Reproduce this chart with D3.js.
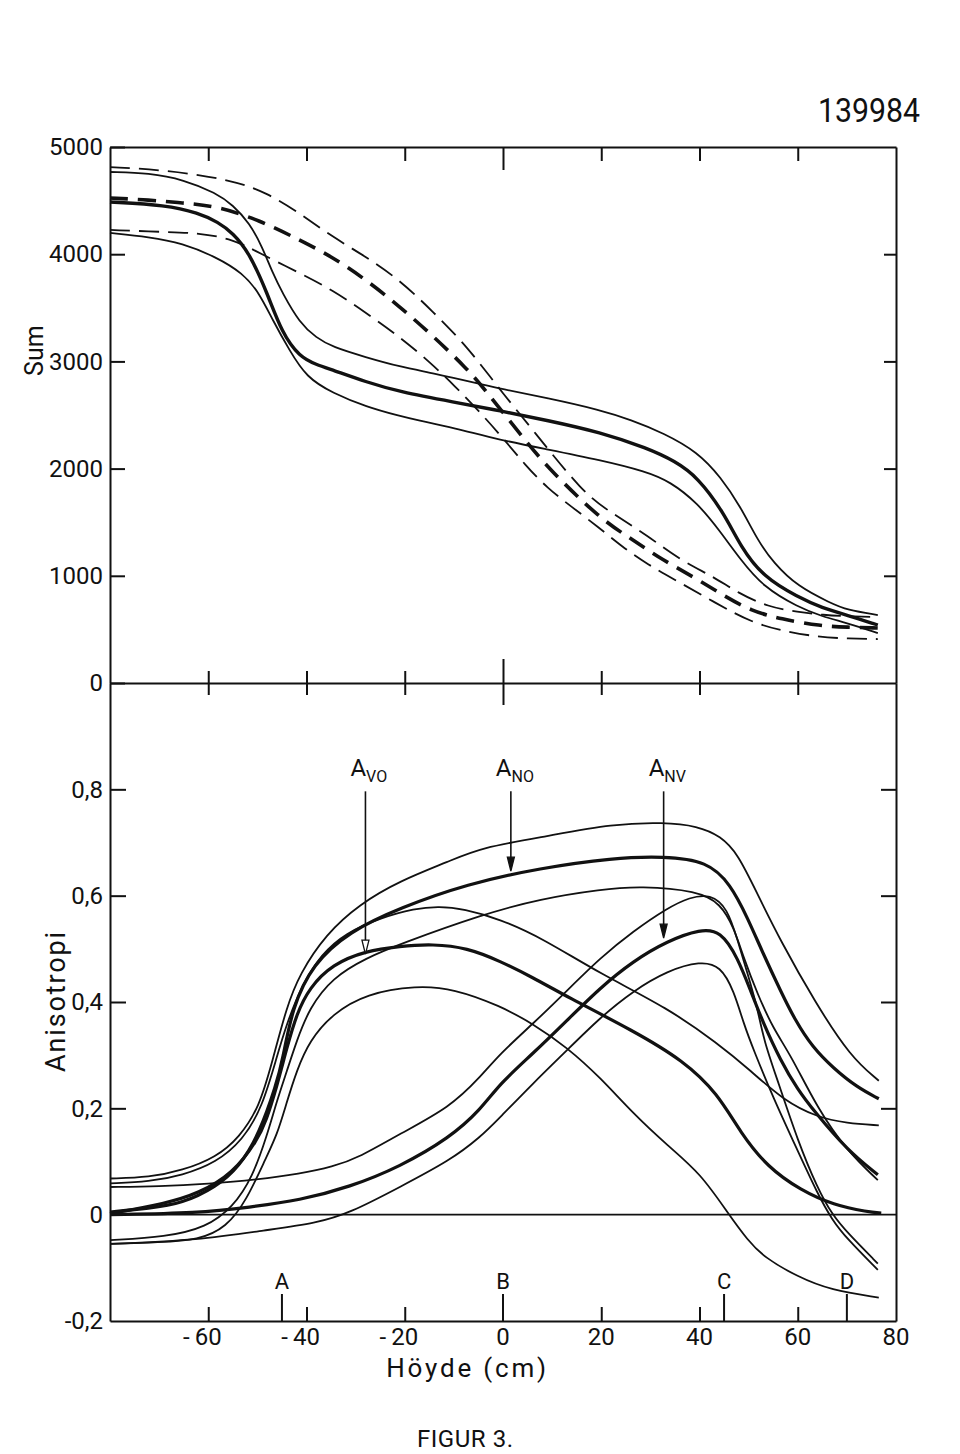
<!DOCTYPE html>
<html><head><meta charset="utf-8">
<script src="https://cdn.jsdelivr.net/npm/d3@7"></script>
<style>
html,body{margin:0;padding:0;background:#fff;}
svg{display:block;}
text{font-family:Roboto,"DejaVu Sans",sans-serif;fill:#111;}
</style></head><body>
<svg id="chart" width="960" height="1454"></svg>
<script>
// ---------- DATA ----------
// Top panel: Sum vs Höyde (cm)
const sumSolidUpper = [[-80,4767],[-72,4757],[-65,4695],[-58.4,4571],[-55,4459],[-51.6,4291],[-49,4067],[-46.9,3825],[-44.9,3638],[-41.4,3358],[-38,3220],[-34.7,3134],[-28,3040],[-21,2950],[-14.3,2890],[-4.7,2790],[-0.6,2745],[9,2659],[19.8,2547],[26,2455],[32.7,2332],[39.6,2155],[44.3,1922],[48.4,1642],[51.8,1334],[55.1,1119],[60,900],[66.7,746],[70,681],[76.3,634]];
const sumSolidMid = [[-80,4487],[-68.6,4459],[-62,4384],[-58,4300],[-55,4198],[-51.6,4011],[-48,3638],[-45,3265],[-41.4,3041],[-38,2970],[-34.7,2920],[-28,2810],[-21,2715],[-10,2620],[-0.6,2540],[9,2450],[19.8,2340],[29.4,2190],[35,2070],[39.6,1922],[45,1586],[48.4,1269],[53,989],[60,802],[65,700],[70,634],[76.3,541]];
const sumSolidLower = [[-80,4198],[-72,4160],[-65.3,4104],[-58.4,3974],[-53,3825],[-49.6,3638],[-46.9,3386],[-43.5,3106],[-40,2850],[-34.7,2705],[-27.8,2575],[-21,2490],[-17.6,2453],[-10,2380],[-0.6,2267],[9,2180],[19.8,2080],[29,1975],[34,1880],[39.6,1679],[44,1427],[48.4,1147],[53,896],[60,709],[65,620],[70,560],[76.3,466]];
const sumDashUpper = [[-80,4813],[-68.6,4785],[-55,4692],[-48,4571],[-41.4,4384],[-34.7,4160],[-27.8,3974],[-21,3759],[-14.3,3465],[-7.3,3140],[-0.6,2733],[6.1,2360],[16.3,1772],[22,1590],[29.3,1380],[36,1147],[43,989],[47.8,840],[54,709],[60,662],[65.3,634],[70,622],[76.3,616]];
const sumDashMid = [[-80,4524],[-72,4506],[-65.3,4478],[-58.4,4450],[-49.6,4319],[-41.4,4132],[-34.7,3974],[-27.8,3759],[-21,3510],[-14.3,3240],[-7.3,2930],[-4.1,2761],[4.9,2239],[9.6,1987],[19.8,1530],[26.5,1334],[32.4,1150],[39.2,979],[45,812],[50.6,672],[56.5,597],[64.7,532],[70,520],[76.3,513]];
const sumDashLower = [[-80,4226],[-68.6,4207],[-62,4198],[-55,4142],[-49.6,4011],[-41.4,3825],[-34.7,3666],[-27.8,3451],[-21,3228],[-14.9,2994],[-9.8,2770],[-5.1,2547],[0,2285],[4.5,2034],[9,1819],[14,1642],[19.4,1455],[24.3,1269],[29.3,1110],[35.8,942],[43.3,746],[50.8,560],[57.1,485],[64,429],[70,415],[76.3,410]];

// Bottom panel: Anisotropi vs Höyde (cm)
const noUpper = [[-80,0.068],[-72,0.070],[-65.3,0.083],[-58.4,0.108],[-53.7,0.145],[-49.6,0.202],[-46.9,0.29],[-44.1,0.389],[-41.4,0.453],[-36,0.528],[-29.2,0.584],[-21,0.628],[-10.8,0.665],[-4.7,0.690],[9,0.712],[22.4,0.735],[32.7,0.738],[39.6,0.731],[44.3,0.712],[47.8,0.679],[51.8,0.603],[56.5,0.515],[63.5,0.40],[70.8,0.296],[76.5,0.252]];
const noThick = [[-80,0.005],[-72,0.012],[-65.3,0.021],[-58.4,0.052],[-53.7,0.09],[-49.6,0.152],[-46.1,0.246],[-44.9,0.29],[-42.9,0.389],[-38.8,0.471],[-31.2,0.533],[-21,0.577],[-7.3,0.622],[7.6,0.652],[22.4,0.671],[32.7,0.674],[41.6,0.665],[46.3,0.622],[49.8,0.558],[53,0.49],[56.5,0.421],[59.5,0.365],[63,0.315],[67.3,0.275],[72,0.24],[76.5,0.218]];
const noLower = [[-80,-0.048],[-68.6,-0.042],[-60.4,-0.024],[-55,0.014],[-51,0.07],[-48,0.15],[-46,0.215],[-44,0.27],[-42,0.327],[-39.4,0.389],[-34.7,0.446],[-27.8,0.483],[-21,0.509],[-4.1,0.565],[7.6,0.594],[20,0.612],[28,0.618],[39.6,0.609],[44.3,0.585],[47,0.54],[49,0.483],[51.8,0.415],[55,0.35],[58.6,0.30],[64,0.2],[70,0.12],[76.3,0.065]];
const voUpper = [[-80,0.059],[-72,0.062],[-65.3,0.074],[-58.4,0.098],[-53,0.14],[-49,0.202],[-46.1,0.295],[-44,0.36],[-41,0.43],[-37,0.49],[-32,0.53],[-25,0.558],[-18,0.576],[-13,0.58],[-8,0.575],[-0.6,0.556],[8,0.52],[19.8,0.453],[33.5,0.389],[43.7,0.322],[50.4,0.271],[57.1,0.215],[64,0.183],[70,0.172],[76.5,0.168]];
const voThick = [[-80,0.002],[-68.6,0.021],[-62,0.04],[-55,0.077],[-50,0.14],[-48.2,0.177],[-46.1,0.239],[-44,0.314],[-42,0.378],[-39.4,0.427],[-34.7,0.471],[-28,0.496],[-21,0.505],[-14.3,0.509],[-7.3,0.502],[-0.6,0.477],[6.1,0.446],[13,0.41],[26.5,0.346],[36.7,0.29],[43.7,0.228],[48.4,0.153],[53.9,0.089],[60.6,0.046],[67.3,0.018],[74.3,0.005],[77,0.003]];
const voLower = [[-80,-0.055],[-70,-0.052],[-62,-0.048],[-56.3,-0.024],[-52.2,0.027],[-48.2,0.108],[-46,0.15],[-44.1,0.209],[-42,0.271],[-39.4,0.327],[-34.7,0.378],[-27.8,0.416],[-17.6,0.431],[-10,0.425],[-0.6,0.393],[6.1,0.359],[13,0.315],[19.8,0.258],[26.5,0.19],[33.5,0.13],[40.2,0.078],[46,0.0],[49.8,-0.048],[53.1,-0.08],[60,-0.117],[66.7,-0.142],[76.5,-0.156]];
const nvUpper = [[-80,0.052],[-70,0.053],[-60,0.058],[-50,0.066],[-41.4,0.077],[-34.7,0.09],[-29.2,0.108],[-21,0.152],[-10.8,0.202],[-4.7,0.258],[-0.6,0.303],[6.1,0.359],[13,0.421],[19.8,0.483],[26.5,0.533],[33.5,0.577],[38,0.597],[42.2,0.603],[45.7,0.577],[47.8,0.515],[49.8,0.453],[51.8,0.389],[53.1,0.327],[56,0.25],[60,0.139],[64,0.05],[67,0.0],[70.2,-0.035],[76.3,-0.092]];
const nvThick = [[-80,0.0],[-62,0.003],[-51.6,0.014],[-41.4,0.027],[-31.2,0.052],[-21,0.09],[-10.8,0.145],[-4.7,0.196],[-0.6,0.247],[6.1,0.303],[13,0.365],[19.8,0.427],[26.5,0.477],[33.5,0.515],[40.2,0.537],[44.3,0.534],[47.8,0.483],[50.4,0.421],[53,0.36],[56.5,0.29],[60,0.235],[63.3,0.195],[70.2,0.12],[76.3,0.075]];
const nvLower = [[-80,-0.055],[-62,-0.048],[-48.2,-0.029],[-38,-0.016],[-31.2,0.003],[-21,0.052],[-10.8,0.102],[-4.7,0.145],[-0.6,0.183],[6.1,0.247],[13,0.309],[19.8,0.371],[26.5,0.421],[33.5,0.459],[40.2,0.477],[44.3,0.468],[47,0.421],[49,0.359],[51,0.31],[55,0.22],[60,0.12],[64,0.04],[67,-0.01],[70,-0.045],[76.3,-0.104]];
const zeroLine = [[-80,0],[80,0]];

// Ticks and labels
const xTickLabels = [-60,-40,-20,0,20,40,60,80];
const xInnerTicks = [-60,-40,-20,0,20,40,60];
const sumTicks = [0,1000,2000,3000,4000,5000];
const sumRightTicks = [1000,2000,3000,4000];
const anisoTicks = [-0.2,0,0.2,0.4,0.6,0.8];
const anisoRightTicks = [0.2,0.4,0.6,0.8];
const markerLabels = ["A","B","C","D"];
const markerX = [-45,0,45,70];
const annotSub = ["VO","NO","NV"];
const annotX = [-28,1.6,32.7];
const annotTip = [0.49,0.646,0.52];
const annotFrom = 0.8;
const annotOpen = [true,false,false];

// ---------- LAYOUT ----------
const x = d3.scaleLinear().domain([-80,80]).range([110,896]);
const ySum = d3.scaleLinear().domain([0,5000]).range([683,147]);
const yAni = d3.scaleLinear().domain([-0.2,1.0]).range([1321,683]);
const INK = "#111";

const svg = d3.select("#chart");
svg.append("rect").attr("width",960).attr("height",1454).attr("fill","#fff");

function styleAxis(g, fs){
  g.selectAll(".domain").attr("stroke",INK).attr("stroke-width",2);
  g.selectAll(".tick line").attr("stroke",INK).attr("stroke-width",2);
  g.selectAll(".tick text").attr("fill",INK).style("font-size",(fs||24)+"px")
    .style("font-family","Roboto, 'DejaVu Sans', sans-serif");
}
const none = () => "";
const commaFmt = d => d === 0 ? "0" : d3.format(".1f")(d).replace(".", ",").replace("\u2212","-");

// Top panel axes
const gTL = svg.append("g").attr("transform",`translate(${x(-80)},0)`)
  .call(d3.axisLeft(ySum).tickValues(sumTicks).tickSizeInner(-15).tickSizeOuter(0).tickPadding(7).tickFormat(d3.format("d")));
styleAxis(gTL);
const gTR = svg.append("g").attr("transform",`translate(${x(80)},0)`)
  .call(d3.axisRight(ySum).tickValues(sumRightTicks).tickSizeInner(-12).tickSizeOuter(0).tickFormat(none));
styleAxis(gTR);
const gTT = svg.append("g").attr("transform",`translate(0,${ySum(5000)})`)
  .call(d3.axisTop(x).tickValues(xInnerTicks).tickSizeInner(-14).tickSizeOuter(0).tickFormat(none));
styleAxis(gTT);
gTT.selectAll(".tick line").filter(d => d === 0).attr("y2", 23);
const gTB = svg.append("g").attr("transform",`translate(0,${ySum(0)})`)
  .call(d3.axisBottom(x).tickValues(xInnerTicks).tickSizeInner(12).tickSizeOuter(0).tickFormat(none));
styleAxis(gTB);
gTB.selectAll(".tick line").attr("y1",-12).filter(d => d === 0).attr("y1",-24).attr("y2",22);

// Bottom panel axes
const gBL = svg.append("g").attr("transform",`translate(${x(-80)},0)`)
  .call(d3.axisLeft(yAni).tickValues(anisoTicks).tickSizeInner(-16).tickSizeOuter(0).tickPadding(7).tickFormat(commaFmt));
styleAxis(gBL);
gBL.selectAll(".tick line").filter(d => d <= 0).remove();
const gBR = svg.append("g").attr("transform",`translate(${x(80)},0)`)
  .call(d3.axisRight(yAni).tickValues(anisoRightTicks).tickSizeInner(-15).tickSizeOuter(0).tickFormat(none));
styleAxis(gBR);
const gBB = svg.append("g").attr("transform",`translate(0,${yAni(-0.2)})`)
  .call(d3.axisBottom(x).tickValues(xInnerTicks.filter(v => v !== 0)).tickSizeInner(-14).tickSizeOuter(0).tickFormat(none));
styleAxis(gBB);

// x tick labels (digits centred on tick, minus set apart)
const labY = yAni(-0.2) + 24;
xTickLabels.forEach(v => {
  const t = svg.append("text").attr("x", x(v)).attr("y", labY).attr("text-anchor","middle")
    .style("font-size","24px").text(String(Math.abs(v)));
  if (v < 0) {
    const w = t.node().getComputedTextLength();
    svg.append("text").attr("x", x(v) - w/2 - 5).attr("y", labY).attr("text-anchor","end")
      .style("font-size","24px").text("-");
  }
});

// Markers A B C D
markerLabels.forEach((lab, i) => {
  const mx = x(markerX[i]);
  svg.append("line").attr("x1",mx).attr("x2",mx).attr("y1",yAni(-0.2)).attr("y2",yAni(-0.2)-27)
    .attr("stroke",INK).attr("stroke-width",2);
  svg.append("text").attr("x",mx).attr("y",yAni(-0.2)-32).attr("text-anchor","middle")
    .style("font-size","22px").text(lab);
});

// ---------- CURVES ----------
const lineSum = d3.line().x(d => x(d[0])).y(d => ySum(d[1])).curve(d3.curveBasis);
const lineAni = d3.line().x(d => x(d[0])).y(d => yAni(d[1])).curve(d3.curveBasis);

const topSeries = [
  {data: sumSolidUpper, w: 1.8, dash: null},
  {data: sumSolidMid,   w: 3.4, dash: null},
  {data: sumSolidLower, w: 1.8, dash: null},
  {data: sumDashUpper,  w: 1.8, dash: "20,9"},
  {data: sumDashMid,    w: 3.6, dash: "18,10"},
  {data: sumDashLower,  w: 1.8, dash: "20,9"}
];
topSeries.forEach(s => {
  svg.append("path").attr("d", lineSum(s.data)).attr("fill","none").attr("stroke",INK)
    .attr("stroke-width", s.w).attr("stroke-dasharray", s.dash).attr("stroke-linecap","butt");
});

const botSeries = [
  {data: zeroLine, w: 1.6},
  {data: noUpper, w: 1.8}, {data: noThick, w: 3.2}, {data: noLower, w: 1.8},
  {data: voUpper, w: 1.8}, {data: voThick, w: 3.2}, {data: voLower, w: 1.8},
  {data: nvUpper, w: 1.8}, {data: nvThick, w: 3.2}, {data: nvLower, w: 1.8}
];
botSeries.forEach(s => {
  svg.append("path").attr("d", lineAni(s.data)).attr("fill","none").attr("stroke",INK)
    .attr("stroke-width", s.w).attr("stroke-linejoin","round");
});

// ---------- ANNOTATIONS ----------
annotSub.forEach((sub, i) => {
  const ax = x(annotX[i]);
  const y0 = yAni(annotFrom) + 2;
  const yt = yAni(annotTip[i]);
  svg.append("line").attr("x1",ax).attr("x2",ax).attr("y1",y0).attr("y2",yt-12)
    .attr("stroke",INK).attr("stroke-width",1.6);
  svg.append("path").attr("d",`M${ax},${yt}L${ax-3.5},${yt-14}L${ax+3.5},${yt-14}Z`)
    .attr("fill", annotOpen[i] ? "#fff" : INK).attr("stroke",INK).attr("stroke-width",1.3);
  const t = svg.append("text").attr("x", ax - 15).attr("y", yAni(annotFrom) - 13).style("font-size","24px");
  t.append("tspan").text("A");
  t.append("tspan").attr("dy",6).style("font-size","16px").text(sub);
});

// ---------- TITLES ----------
svg.append("text").attr("transform",`translate(43,${ySum(3100)}) rotate(-90)`).attr("text-anchor","middle")
  .style("font-size","25px").text("Sum");
svg.append("text").attr("transform",`translate(65,${yAni(0.4)}) rotate(-90)`).attr("text-anchor","middle")
  .attr("textLength",140).attr("lengthAdjust","spacing")
  .style("font-size","27px").text("Anisotropi");
svg.append("text").attr("x",x(-7.5)).attr("y",yAni(-0.2)+56).attr("text-anchor","middle")
  .attr("textLength",160).attr("lengthAdjust","spacing")
  .style("font-size","26px").text("Höyde (cm)");
svg.append("text").attr("x",465).attr("y",1447).attr("text-anchor","middle")
  .attr("textLength",96).attr("lengthAdjust","spacing")
  .style("font-size","24px").text("FIGUR 3.");
svg.append("text").attr("x",818).attr("y",122).attr("textLength",102).attr("lengthAdjust","spacingAndGlyphs")
  .style("font-size","34px").text("139984");
</script>
</body></html>
